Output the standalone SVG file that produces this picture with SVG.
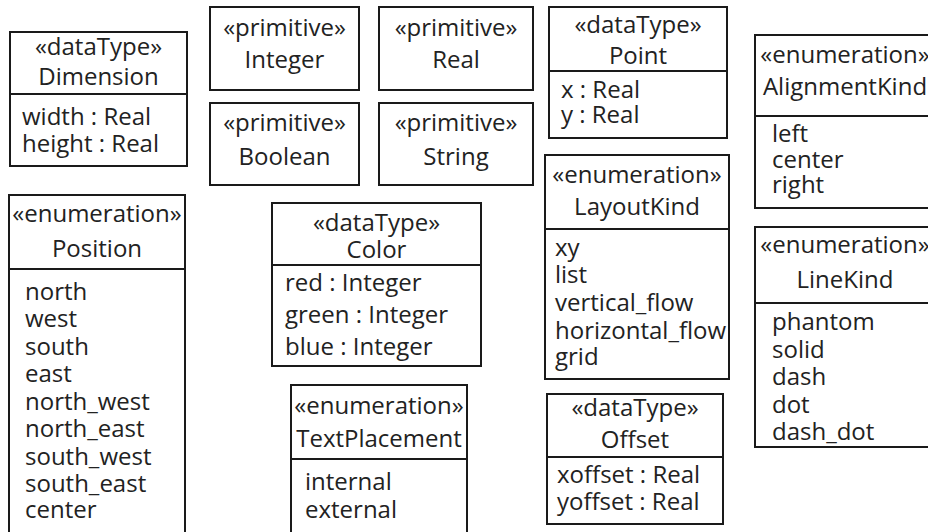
<svg xmlns="http://www.w3.org/2000/svg" width="928" height="532" viewBox="0 0 928 532">
<style>
  .box { fill: #fff; stroke: #1a1a1a; stroke-width: 2; }
  .div { stroke: #1a1a1a; stroke-width: 2; }
  text { font-family: "Open Sans", "Noto Sans", sans-serif; font-size: 24px; fill: #222; }
  .c { text-anchor: middle; }
</style>
<rect width="928" height="532" fill="#fff"/>
<g id="connectors"></g>

<g id="Dimension">
  <rect class="box" x="10" y="32" width="177" height="134"/>
  <line class="div" x1="10" y1="94" x2="187" y2="94"/>
  <text class="c" x="98.5" y="55">«dataType»</text>
  <text class="c" x="98.5" y="85">Dimension</text>
  <text x="22" y="125">width : Real</text>
  <text x="22" y="152">height : Real</text>
</g>

<g id="Integer">
  <rect class="box" x="210" y="7" width="149" height="83"/>
  <text class="c" x="284.5" y="36">«primitive»</text>
  <text class="c" x="284.5" y="68">Integer</text>
</g>

<g id="Real">
  <rect class="box" x="379" y="7" width="154" height="83"/>
  <text class="c" x="456" y="36">«primitive»</text>
  <text class="c" x="456" y="68">Real</text>
</g>

<g id="Boolean">
  <rect class="box" x="210" y="103" width="149" height="82"/>
  <text class="c" x="284.5" y="131">«primitive»</text>
  <text class="c" x="284.5" y="165">Boolean</text>
</g>

<g id="String">
  <rect class="box" x="379" y="103" width="154" height="82"/>
  <text class="c" x="456" y="131">«primitive»</text>
  <text class="c" x="456" y="165">String</text>
</g>

<g id="Point">
  <rect class="box" x="549" y="7" width="178" height="131"/>
  <line class="div" x1="549" y1="71" x2="727" y2="71"/>
  <text class="c" x="638" y="33">«dataType»</text>
  <text class="c" x="638" y="64">Point</text>
  <text x="561" y="98">x : Real</text>
  <text x="561" y="123">y : Real</text>
</g>

<g id="AlignmentKind">
  <rect class="box" x="755" y="35" width="185" height="173"/>
  <line class="div" x1="755" y1="116" x2="940" y2="116"/>
  <text class="c" x="845" y="63">«enumeration»</text>
  <text class="c" x="845" y="95">AlignmentKind</text>
  <text x="772" y="142">left</text>
  <text x="772" y="168">center</text>
  <text x="772" y="193">right</text>
</g>

<g id="Position">
  <rect class="box" x="9" y="195" width="176" height="340"/>
  <line class="div" x1="9" y1="269" x2="185" y2="269"/>
  <text class="c" x="97" y="222">«enumeration»</text>
  <text class="c" x="97" y="257">Position</text>
  <text x="25" y="300">north</text>
  <text x="25" y="327">west</text>
  <text x="25" y="355">south</text>
  <text x="25" y="382">east</text>
  <text x="25" y="410">north_west</text>
  <text x="25" y="437">north_east</text>
  <text x="25" y="465">south_west</text>
  <text x="25" y="492">south_east</text>
  <text x="25" y="518">center</text>
</g>

<g id="Color">
  <rect class="box" x="272" y="203" width="209" height="163"/>
  <line class="div" x1="272" y1="265" x2="481" y2="265"/>
  <text class="c" x="376.5" y="231">«dataType»</text>
  <text class="c" x="376.5" y="258">Color</text>
  <text x="285" y="291">red : Integer</text>
  <text x="285" y="323">green : Integer</text>
  <text x="285" y="355">blue : Integer</text>
</g>

<g id="LayoutKind">
  <rect class="box" x="545" y="155" width="184" height="224"/>
  <line class="div" x1="545" y1="229" x2="729" y2="229"/>
  <text class="c" x="637" y="183">«enumeration»</text>
  <text class="c" x="637" y="215">LayoutKind</text>
  <text x="555" y="256">xy</text>
  <text x="555" y="283">list</text>
  <text x="555" y="311">vertical_flow</text>
  <text x="555" y="339">horizontal_flow</text>
  <text x="555" y="365">grid</text>
</g>

<g id="LineKind">
  <rect class="box" x="755" y="227" width="185" height="220"/>
  <line class="div" x1="755" y1="303" x2="940" y2="303"/>
  <text class="c" x="845" y="253">«enumeration»</text>
  <text class="c" x="845" y="288">LineKind</text>
  <text x="772" y="330">phantom</text>
  <text x="772" y="358">solid</text>
  <text x="772" y="385">dash</text>
  <text x="772" y="413">dot</text>
  <text x="772" y="440">dash_dot</text>
</g>

<g id="TextPlacement">
  <rect class="box" x="291" y="385" width="176" height="150"/>
  <line class="div" x1="291" y1="459" x2="467" y2="459"/>
  <text class="c" x="379" y="414">«enumeration»</text>
  <text class="c" x="379" y="447">TextPlacement</text>
  <text x="305" y="490">internal</text>
  <text x="305" y="518">external</text>
</g>

<g id="Offset">
  <rect class="box" x="547" y="394" width="176" height="130"/>
  <line class="div" x1="547" y1="457" x2="723" y2="457"/>
  <text class="c" x="635" y="416">«dataType»</text>
  <text class="c" x="635" y="448">Offset</text>
  <text x="557" y="483">xoffset : Real</text>
  <text x="557" y="510">yoffset : Real</text>
</g>
</svg>
